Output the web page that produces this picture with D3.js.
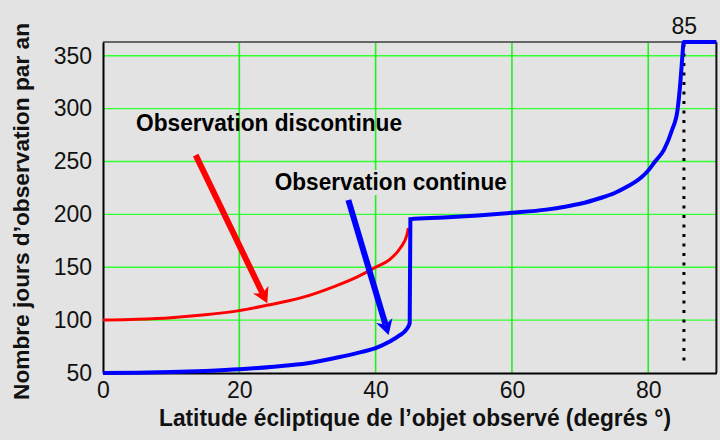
<!DOCTYPE html>
<html><head><meta charset="utf-8">
<script src="https://cdn.jsdelivr.net/npm/d3@7"></script>
<style>
html,body{margin:0;padding:0;background:#e3e3e3;}
svg{display:block;font-family:"Liberation Sans",Arial,sans-serif;}
</style></head>
<body>
<svg id="c" width="720" height="440"></svg>
<script>
// ---- data ----
const xTicks = [0, 20, 40, 60, 80];
const yTicks = [50, 100, 150, 200, 250, 300, 350];
const markerLat = 85;
const markerLabel = "85";
const xTitle = "Latitude écliptique de l’objet observé (degrés °)";
const yTitle = "Nombre jours d’observation par an";
// discontinuous observation (red)
const discLat = [0, 5, 10, 15, 20, 24, 29, 34, 37, 40, 42, 43.6, 44.6, 44.8];
const discDays = [100, 100.8, 102.3, 105, 109, 114, 121, 132, 140, 150, 157, 168, 180.5, 187];
// continuous observation (blue)
const contLat = [0, 5, 10, 15, 20, 25, 30, 35, 38, 40, 42, 43.5, 44.5, 45, 45.1, 50, 55, 60, 65, 68, 70, 73, 75, 77, 79, 80, 81, 82.3, 83.5, 84.3, 84.7, 85, 85.2, 90];
const contDays = [50, 50.3, 51, 52, 53.5, 56, 59.2, 65.5, 70, 73.5, 79.5, 85.5, 91, 97, 195.5, 197, 199, 201.5, 204.5, 207.5, 210, 215.5, 220, 226.5, 235, 241.5, 250, 261, 280, 299, 324, 349, 363, 363];
// annotations: label, label anchor (lat, days), arrow tail and tip (lat, days)
const annLabels = ["Observation discontinue", "Observation continue"];
const annLabelPos = [[4.85, 279], [25.2, 223]];
const annArrowTail = [[13.6, 256], [36.0, 213.6]];
const annArrowTip = [[24.1, 116], [41.9, 86]];
const annColors = ["#ff0000", "#0000ff"];

// ---- layout ----
const svg = d3.select("#c");
const x = d3.scaleLinear([0, 90], [103, 716.4]);
const y = d3.scaleLinear([50, 363], [373, 42]);
const L = x.range()[0], R = x.range()[1], T = y.range()[1], B = y.range()[0];

svg.append("rect").attr("width", 720).attr("height", 440).attr("fill", "#e3e3e3");

// grid
const grid = svg.append("g");
grid.selectAll(".hg").data(yTicks.filter(d => d > 50)).join("line")
  .attr("x1", L).attr("x2", R).attr("y1", d => y(d)).attr("y2", d => y(d))
  .attr("stroke", "#33ff33").attr("stroke-width", 1.3);
grid.selectAll(".vg").data(xTicks.filter(d => d > 0)).join("line")
  .attr("y1", T).attr("y2", B).attr("x1", d => x(d)).attr("x2", d => x(d))
  .attr("stroke", "#22ee22").attr("stroke-width", 1.6);

const annG = svg.append("g");

// frame
svg.append("line").attr("x1", L).attr("x2", R).attr("y1", T).attr("y2", T).attr("stroke", "#666").attr("stroke-width", 2);
svg.append("line").attr("x1", R).attr("x2", R).attr("y1", T).attr("y2", B).attr("stroke", "#111").attr("stroke-width", 2);

// axes
const yAxis = svg.append("g").attr("transform", `translate(${L},0)`)
  .call(d3.axisLeft(y).tickValues(yTicks).tickSize(0).tickPadding(11));
const xAxis = svg.append("g").attr("transform", `translate(0,${B})`)
  .call(d3.axisBottom(x).tickValues(xTicks).tickSize(0).tickPadding(9));
[yAxis, xAxis].forEach(a => {
  a.select(".domain").attr("stroke", "#000").attr("stroke-width", 2);
  a.selectAll("text").attr("font-size", 23).attr("fill", "#111")
    .attr("font-family", "'Liberation Sans',Arial,sans-serif");
});

// marker dotted line
svg.append("line").attr("x1", x(markerLat) + 1.6).attr("x2", x(markerLat) + 1.6)
  .attr("y1", T + 2).attr("y2", B - 6)
  .attr("stroke", "#000").attr("stroke-width", 3).attr("stroke-dasharray", "3,6.5");
svg.append("text").attr("x", x(markerLat) + 2).attr("y", 34).attr("text-anchor", "middle")
  .attr("font-size", 23).attr("fill", "#111").text(markerLabel);

// curves
const line = d3.line().x(d => x(d[0])).y(d => y(d[1])).curve(d3.curveMonotoneX);
svg.append("path").datum(discLat.map((d, i) => [d, discDays[i]]))
  .attr("d", line).attr("fill", "none").attr("stroke", "#ff0000").attr("stroke-width", 3);
svg.append("path").datum(contLat.map((d, i) => [d, contDays[i]]))
  .attr("d", line).attr("fill", "none").attr("stroke", "#0000ff").attr("stroke-width", 4);

// annotation labels
const labelWidths = [266, 232];
annLabels.forEach((t, i) => {
  const tx = annG.append("text").attr("x", x(annLabelPos[i][0])).attr("y", y(annLabelPos[i][1]))
    .attr("font-size", 23).attr("font-weight", "bold").attr("fill", "#000")
    .attr("textLength", labelWidths[i]).attr("lengthAdjust", "spacingAndGlyphs").text(t);
  if (i === 1) {
    const bb = tx.node().getBBox();
    annG.insert("rect", "text").attr("x", bb.x - 4).attr("y", bb.y + 1)
      .attr("width", bb.width + 6).attr("height", bb.height - 1).attr("fill", "#e3e3e3");
  }
});

// arrows
annArrowTail.forEach((tail, i) => {
  const x0 = x(tail[0]), y0 = y(tail[1]);
  const x1 = x(annArrowTip[i][0]), y1 = y(annArrowTip[i][1]);
  const dx = x1 - x0, dy = y1 - y0, len = Math.hypot(dx, dy);
  const ux = dx / len, uy = dy / len, px = -uy, py = ux;
  const hl = 15, hw = 8.5, notch = 4;
  const bx = x1 - ux * hl, by = y1 - uy * hl;
  svg.append("line").attr("x1", x0).attr("y1", y0).attr("x2", bx + ux * notch).attr("y2", by + uy * notch)
    .attr("stroke", annColors[i]).attr("stroke-width", 6);
  svg.append("path").attr("d",
    `M${x1},${y1} L${bx + px * hw},${by + py * hw} L${bx + ux * notch},${by + uy * notch} L${bx - px * hw},${by - py * hw} Z`)
    .attr("fill", annColors[i]);
});

// titles
svg.append("text").attr("x", 415).attr("y", 426).attr("text-anchor", "middle")
  .attr("font-size", 23).attr("font-weight", "bold").attr("fill", "#111")
  .attr("textLength", 512).attr("lengthAdjust", "spacingAndGlyphs").text(xTitle);
svg.append("text").attr("transform", "translate(29,211.5) rotate(-90)").attr("text-anchor", "middle")
  .attr("font-size", 22.5).attr("font-weight", "bold").attr("fill", "#111")
  .attr("textLength", 377).attr("lengthAdjust", "spacingAndGlyphs").text(yTitle);
</script>
</body></html>
